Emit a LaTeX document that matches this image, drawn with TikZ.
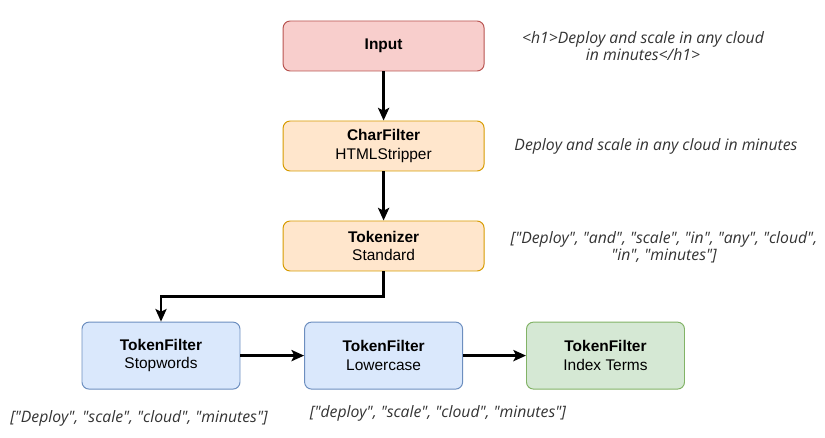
\documentclass[tikz,border=0pt]{standalone}
\usepackage{fontspec}
\setmainfont{Liberation Sans}
\newfontfamily\notefont{Open Sans}
\usepackage{xcolor}
\usetikzlibrary{arrows.meta, positioning}
\definecolor{inputfill}{HTML}{F8CECC}
\definecolor{inputdraw}{HTML}{B85450}
\definecolor{stagefill}{HTML}{FFE6CC}
\definecolor{stagedraw}{HTML}{D79B00}
\definecolor{filterfill}{HTML}{DAE8FC}
\definecolor{filterdraw}{HTML}{6C8EBF}
\definecolor{termfill}{HTML}{D5E8D4}
\definecolor{termdraw}{HTML}{82B366}
\definecolor{notegray}{HTML}{333333}

\begin{document}
\begin{tikzpicture}[
    box/.style={draw, line width=0.7pt, rounded corners=5pt, align=center, font=\fontsize{11}{13}\selectfont},
    wide/.style={minimum width=5.025cm, minimum height=1.25cm},
    flt/.style={minimum width=3.95cm, minimum height=1.675cm},
    note/.style={align=center, inner sep=0pt, text=notegray, font=\notefont\itshape\fontsize{11.2}{12.4}\selectfont},
    arr/.style={-{Stealth[length=9pt, width=8pt, inset=2pt]}, line width=1.6pt}
]
    \useasboundingbox (0,0) rectangle (20.625,-10.95);

    % --- Column: input, char filter, tokenizer ---
    \node[box, wide, fill=inputfill, draw=inputdraw] (input) at (9.59, -1.15) {\textbf{Input}};
    \node[box, wide, fill=stagefill, draw=stagedraw] (charf) at (9.59, -3.65) {\textbf{CharFilter}\\HTMLStripper};
    \node[box, wide, fill=stagefill, draw=stagedraw] (tok) at (9.59, -6.15) {\textbf{Tokenizer}\\Standard};

    % --- Row: token filters ---
    \node[box, flt, fill=filterfill, draw=filterdraw] (stop) at (4.025, -8.89) {\textbf{TokenFilter}\\Stopwords};
    \node[box, flt, fill=filterfill, draw=filterdraw] (lower) at (9.59, -8.89) {\textbf{TokenFilter}\\Lowercase};
    \node[box, flt, fill=termfill, draw=termdraw] (terms) at (15.1375, -8.89) {\textbf{TokenFilter}\\Index Terms};

    % --- Arrows ---
    \draw[arr] (input.south) -- (charf.north);
    \draw[arr] (charf.south) -- (tok.north);
    \draw[arr] (tok.south) -- ++(0,-0.625) -| (stop.north);
    \draw[arr] (stop.east) -- (lower.west);
    \draw[arr] (lower.east) -- (terms.west);

    % --- Output of each step ---
    \node[note] (n1) at (16.075, -1.15) {<h1>Deploy and scale in any cloud\\in minutes</h1>};
    \node[note] (n2) at (16.4, -3.65) {Deploy and scale in any cloud in minutes};
    \node[note] (n3) at (16.6, -6.175) {["Deploy", "and", "scale", "in", "any", "cloud",\\"in", "minutes"]};
    \node[note] (n4) at (3.475, -10.45) {["Deploy", "scale", "cloud", "minutes"]};
    \node[note] (n5) at (10.95, -10.325) {["deploy", "scale", "cloud", "minutes"]};
\end{tikzpicture}
\end{document}
